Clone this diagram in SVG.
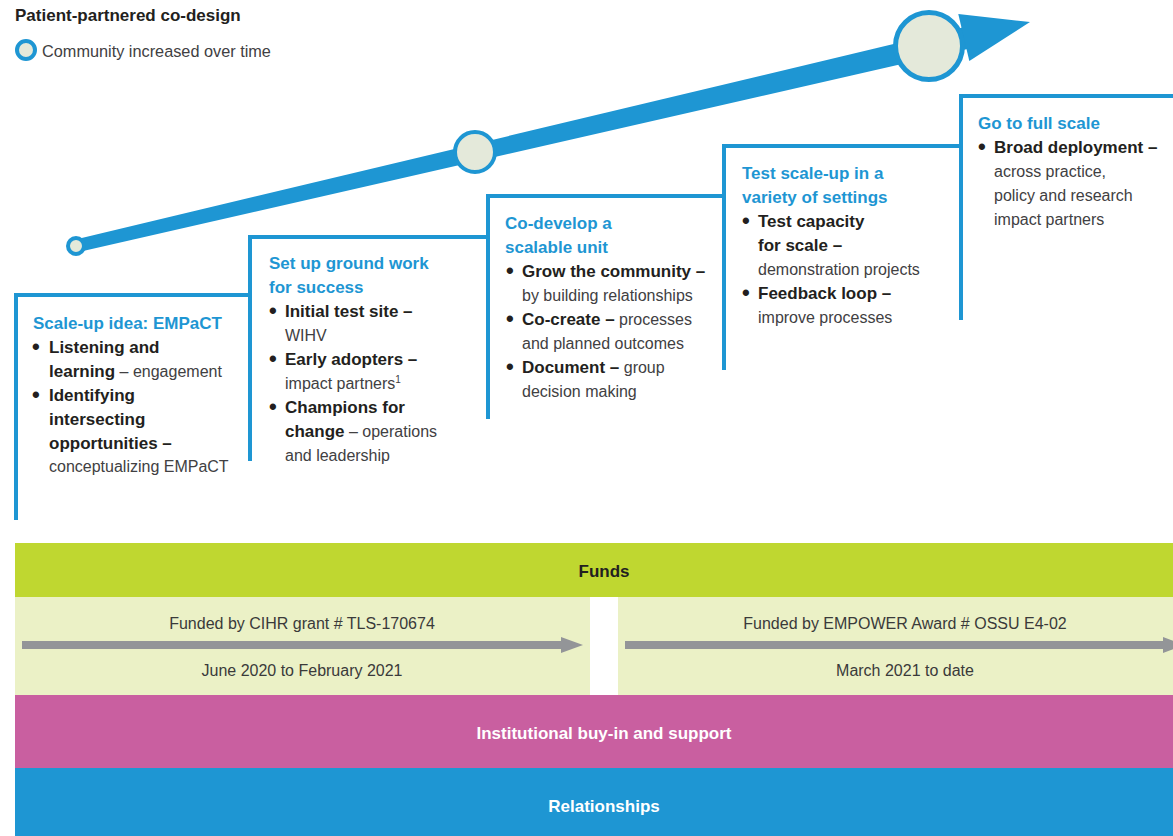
<svg xmlns="http://www.w3.org/2000/svg" width="1173" height="836" viewBox="0 0 1173 836">
<style>
text{font-family:"Liberation Sans",Arial,Helvetica,sans-serif}
.hd{font-size:17px;font-weight:bold;fill:#231f20}
.h{font-size:17px;font-weight:bold;fill:#1e96d3}
.b{font-size:17px;font-weight:bold;fill:#231f20}
.bl{font-size:22px;font-weight:bold;fill:#231f20}
.r{font-size:16px;font-weight:normal;fill:#414042}
.f{font-size:16px;fill:#3a3a3a;text-anchor:middle}
.bw{font-size:17px;font-weight:bold;fill:#ffffff;text-anchor:middle}
.ln{fill:none;stroke:#1e96d3;stroke-width:4}
.dot{fill:#e4e9da;stroke:#1e96d3}
.ga{fill:#939598}
</style>
<rect width="1173" height="836" fill="#ffffff"/>

<g id="legend">
<text class="hd" x="15" y="21">Patient-partnered co-design</text>
<circle class="dot" cx="26" cy="50" r="9" stroke-width="4"/>
<text class="r" x="42" y="57" style="font-size:16.3px">Community increased over time</text>
</g>

<g id="connectors">
<polygon points="77.6,252.3 74.4,239.7 963.5,27.3 968.5,48.7" fill="#1e96d3"/>
<polygon points="958.3,14.1 1030,22 969.3,60.9" fill="#1e96d3"/>
</g>

<g id="milestones">
<circle class="dot" cx="76" cy="246" r="8" stroke-width="4"/>
<circle class="dot" cx="475" cy="152" r="20" stroke-width="4"/>
<circle class="dot" cx="929" cy="46" r="33.5" stroke-width="5"/>
</g>

<g id="step1">
<polyline class="ln" points="250,295 16,295 16,520"/>
<text class="h" x="33" y="329">Scale-up idea: EMPaCT</text>
<text class="bl" x="32" y="354">•</text>
<text class="b" x="49" y="353">Listening and</text>
<text x="49" y="377"><tspan class="b">learning</tspan><tspan class="r"> – engagement</tspan></text>
<text class="bl" x="32" y="402">•</text>
<text class="b" x="49" y="401">Identifying</text>
<text class="b" x="49" y="425">intersecting</text>
<text class="b" x="49" y="449">opportunities –</text>
<text class="r" x="49" y="472">conceptualizing EMPaCT</text>
</g>

<g id="step2">
<polyline class="ln" points="487,237 250,237 250,461"/>
<text class="h" x="269" y="269">Set up ground work</text>
<text class="h" x="269" y="293">for success</text>
<text class="bl" x="269" y="318">•</text>
<text class="b" x="285" y="317">Initial test site –</text>
<text class="r" x="285" y="341">WIHV</text>
<text class="bl" x="269" y="366">•</text>
<text class="b" x="285" y="365">Early adopters –</text>
<text class="r" x="285" y="389">impact partners<tspan font-size="10" dy="-6">1</tspan></text>
<text class="bl" x="269" y="414">•</text>
<text class="b" x="285" y="413">Champions for</text>
<text x="285" y="437"><tspan class="b">change</tspan><tspan class="r"> – operations</tspan></text>
<text class="r" x="285" y="461">and leadership</text>
</g>

<g id="step3">
<polyline class="ln" points="724,196 488,196 488,419"/>
<text class="h" x="505" y="229">Co-develop a</text>
<text class="h" x="505" y="253">scalable unit</text>
<text class="bl" x="506" y="278">•</text>
<text class="b" x="522" y="277">Grow the community –</text>
<text class="r" x="522" y="301">by building relationships</text>
<text class="bl" x="506" y="326">•</text>
<text x="522" y="325"><tspan class="b">Co-create –</tspan><tspan class="r"> processes</tspan></text>
<text class="r" x="522" y="349">and planned outcomes</text>
<text class="bl" x="506" y="374">•</text>
<text x="522" y="373"><tspan class="b">Document –</tspan><tspan class="r"> group</tspan></text>
<text class="r" x="522" y="397">decision making</text>
</g>

<g id="step4">
<polyline class="ln" points="961,146 724,146 724,370"/>
<text class="h" x="742" y="179">Test scale-up in a</text>
<text class="h" x="742" y="203">variety of settings</text>
<text class="bl" x="742" y="228">•</text>
<text class="b" x="758" y="227">Test capacity</text>
<text class="b" x="758" y="251">for scale –</text>
<text class="r" x="758" y="275">demonstration projects</text>
<text class="bl" x="742" y="300">•</text>
<text class="b" x="758" y="299">Feedback loop –</text>
<text class="r" x="758" y="323">improve processes</text>
</g>

<g id="step5">
<polyline class="ln" points="1175,96 961,96 961,320"/>
<text class="h" x="978" y="129">Go to full scale</text>
<text class="bl" x="978" y="154">•</text>
<text class="b" x="994" y="153">Broad deployment –</text>
<text class="r" x="994" y="177">across practice,</text>
<text class="r" x="994" y="201">policy and research</text>
<text class="r" x="994" y="225">impact partners</text>
</g>

<g id="funds">
<rect x="15" y="543" width="1158" height="54" fill="#bfd730"/>
<text class="b" x="604" y="577" text-anchor="middle">Funds</text>
<rect x="15" y="597" width="575" height="98" fill="#ebf1c6"/>
<rect x="618" y="597" width="555" height="98" fill="#ebf1c6"/>
<text class="f" x="302" y="629">Funded by CIHR grant # TLS-170674</text>
<polygon class="ga" points="22,641 561,641 561,637 583,645 561,653 561,649 22,649"/>
<text class="f" x="302" y="676">June 2020 to February 2021</text>
<text class="f" x="905" y="629">Funded by EMPOWER Award # OSSU E4-02</text>
<polygon class="ga" points="625,641 1163,641 1163,637 1185,645 1163,653 1163,649 625,649"/>
<text class="f" x="905" y="676">March 2021 to date</text>
</g>

<g id="support">
<rect x="15" y="695" width="1158" height="73" fill="#c95fa0"/>
<text class="bw" x="604" y="739">Institutional buy-in and support</text>
</g>

<g id="relationships">
<rect x="15" y="768" width="1158" height="68" fill="#1e96d3"/>
<text class="bw" x="604" y="812">Relationships</text>
</g>
</svg>
